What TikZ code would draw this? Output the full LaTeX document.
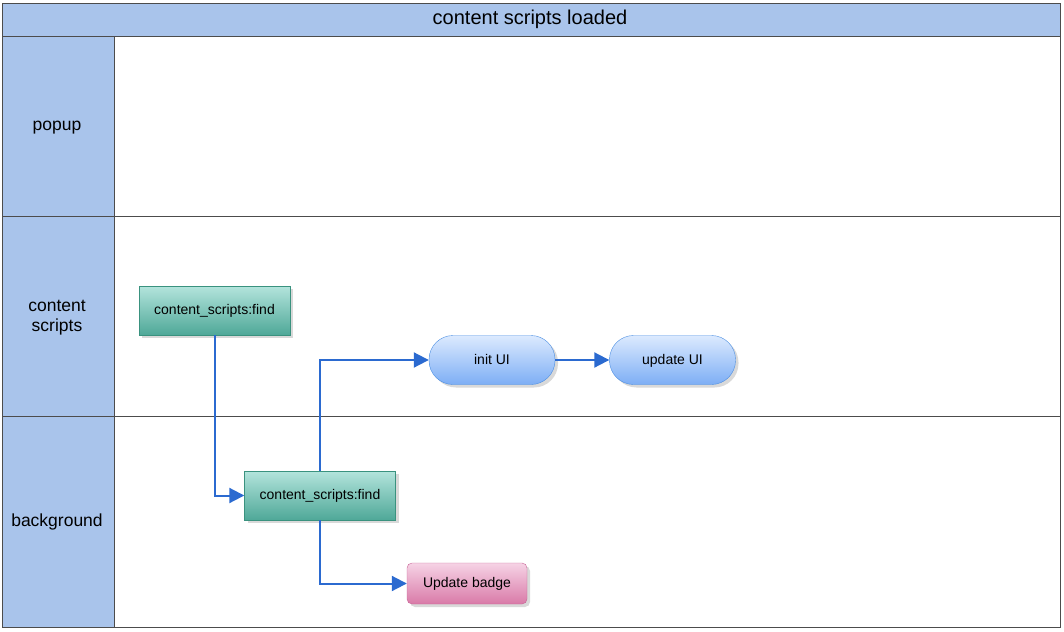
\documentclass[tikz,border=0pt]{standalone}
\usepackage{fontspec}
\setmainfont{Liberation Sans}
\usetikzlibrary{arrows.meta, shadows}

\definecolor{lanefill}{HTML}{A9C4EB}
\definecolor{flow}{HTML}{2B6AD0}
\definecolor{findtop}{HTML}{B3E4DC}
\definecolor{findbot}{HTML}{4FA898}
\definecolor{findline}{HTML}{3A927F}
\definecolor{uitop}{HTML}{DCEAFE}
\definecolor{uibot}{HTML}{7DAEF5}
\definecolor{uiline}{HTML}{4A8EE3}
\definecolor{badgetop}{HTML}{F6D3E5}
\definecolor{badgebot}{HTML}{D97AA8}
\definecolor{badgeline}{HTML}{C76496}

\tikzset{
  lane/.style={draw=black!70, line width=1pt},
  head/.style={draw=black!70, line width=1pt, fill=lanefill},
  even/.style={text height=0.9em, text depth=0.1em},
  findbox/.style={even, draw=findline, top color=findtop, bottom color=findbot,
    minimum width=151, minimum height=49, inner sep=0pt, font=\fontsize{14}{16}\selectfont,
    drop shadow={shadow xshift=3pt, shadow yshift=-3pt, opacity=0.3}},
  uibox/.style={even, draw=uiline, top color=uitop, bottom color=uibot,
    rounded corners=24pt, minimum width=126, minimum height=49, inner sep=0pt, font=\fontsize{14}{16}\selectfont,
    drop shadow={shadow xshift=3pt, shadow yshift=-3pt, opacity=0.3}},
  badgebox/.style={even, draw=badgeline, top color=badgetop, bottom color=badgebot,
    rounded corners=5pt, minimum width=120, minimum height=41, inner sep=0pt, font=\fontsize{14}{16}\selectfont,
    drop shadow={shadow xshift=3pt, shadow yshift=-3pt, opacity=0.3}},
  link/.style={draw=flow, line width=2pt, -{Triangle[length=15pt, width=15pt]}},
}

\begin{document}
\begin{tikzpicture}[x=1pt, y=-1pt]
  \useasboundingbox (0,0) rectangle (1064,631);
  \draw[head] (2,4) rectangle (1060,37);
  \node[even, font=\fontsize{20}{22}\selectfont] (T) at (530,21) {content scripts loaded};
  \draw[lane] (2,37) rectangle (1060,216);
  \draw[lane] (2,216) rectangle (1060,416);
  \draw[lane] (2,416) rectangle (1060,627);
  \draw[head] (2,37) rectangle (114,216);
  \draw[head] (2,216) rectangle (114,416);
  \draw[head] (2,416) rectangle (114,627);
  \node[even, font=\fontsize{17.5}{20}\selectfont] (P) at (57,127) {popup};
  \node[font=\fontsize{17.5}{20}\selectfont, align=center] (C) at (57,318) {content\\scripts};
  \node[even, font=\fontsize{17.5}{20}\selectfont] (B) at (57,522) {background};

  \node[findbox] (F1) at (214.5,310.5) {content\_scripts:find};
  \node[findbox] (F2) at (320,495.5) {content\_scripts:find};
  \node[uibox] (UI1) at (492,360) {init UI};
  \node[uibox] (UI2) at (672.5,360) {update UI};
  \node[badgebox] (BDG) at (467,583.5) {Update badge};

  \draw[link] (F1.south) |- (F2.west);
  \draw[link] (F2.north) |- (UI1.west);
  \draw[link] (UI1) -- (UI2);
  \draw[link] (F2.south) |- (BDG.west);
\end{tikzpicture}
\end{document}
